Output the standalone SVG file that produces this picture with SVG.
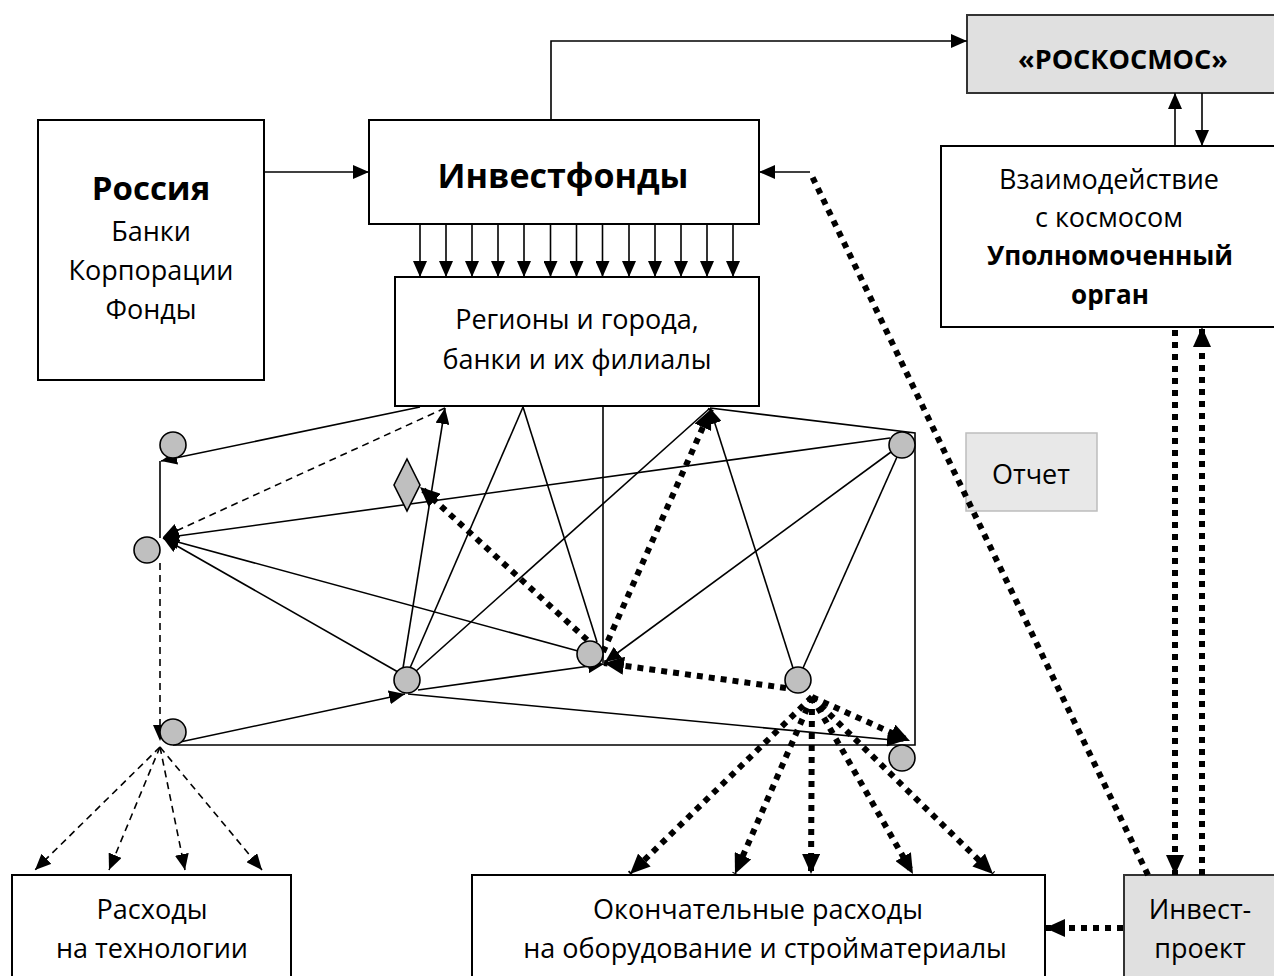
<svg xmlns="http://www.w3.org/2000/svg" width="1274" height="976" viewBox="0 0 1274 976">
<defs>
<style>
.box{fill:#fff;stroke:#000;stroke-width:2}
.gbox{fill:#e0e0e0;stroke:#333;stroke-width:2}
.obox{fill:#e8e8e8;stroke:#bdbdbd;stroke-width:1.5}
.t{font-family:"Open Sans","DejaVu Sans",sans-serif;font-size:27px;fill:#000;text-anchor:middle;dominant-baseline:central}
.b{font-weight:bold;font-size:26px}
.ln{fill:none;stroke:#000;stroke-width:1.6}
.da{fill:none;stroke:#000;stroke-width:1.6;stroke-dasharray:7 5}
.dt{fill:none;stroke:#000;stroke-width:6;stroke-dasharray:6 6}
.nd{fill:#bfbfbf;stroke:#000;stroke-width:1.6}
</style>
<marker id="a" markerUnits="userSpaceOnUse" viewBox="0 0 16 14" refX="16" refY="7" markerWidth="16" markerHeight="14" orient="auto"><path d="M0,0L16,7L0,14z" fill="#000"/></marker>
<marker id="A" markerUnits="userSpaceOnUse" viewBox="0 0 20 18" refX="20" refY="9" markerWidth="20" markerHeight="18" orient="auto"><path d="M0,0L20,9L0,18z" fill="#000"/></marker>
</defs>
<rect width="1274" height="976" fill="#fff"/>

<g id="node-russia">
<rect class="box" x="38" y="120" width="226" height="260"/>
<text class="t b" x="151" y="187" style="font-size:33px">Россия</text>
<text class="t" x="151" y="230">Банки</text>
<text class="t" x="151" y="269">Корпорации</text>
<text class="t" x="151" y="308">Фонды</text>
</g>
<g id="node-investfondy">
<rect class="box" x="369" y="120" width="390" height="104"/>
<text class="t b" x="563" y="175" style="font-size:34px">Инвестфонды</text>
</g>
<g id="node-regiony">
<rect class="box" x="395" y="277" width="364" height="129"/>
<text class="t" x="577" y="318">Регионы и города,</text>
<text class="t" x="577" y="358">банки и их филиалы</text>
</g>
<g id="node-roskosmos">
<rect class="gbox" x="967" y="15" width="320" height="78"/>
<text class="t b" x="1123" y="58" style="font-size:27px">«РОСКОСМОС»</text>
</g>
<g id="node-vzaimodeistvie">
<rect class="box" x="941" y="146" width="345" height="181"/>
<text class="t" x="1109" y="178">Взаимодействие</text>
<text class="t" x="1109" y="216">с космосом</text>
<text class="t b" x="1110" y="255">Уполномоченный</text>
<text class="t b" x="1110" y="294">орган</text>
</g>
<g id="node-otchet">
<rect class="obox" x="966" y="433" width="131" height="78"/>
<text class="t" x="1031" y="473">Отчет</text>
</g>
<g id="node-raskhody-tech">
<rect class="box" x="12" y="875" width="279" height="120"/>
<text class="t" x="152" y="908">Расходы</text>
<text class="t" x="152" y="947">на технологии</text>
</g>
<g id="node-okonchatelnye">
<rect class="box" x="472" y="875" width="573" height="120"/>
<text class="t" x="758" y="908">Окончательные расходы</text>
<text class="t" x="765" y="947">на оборудование и стройматериалы</text>
</g>
<g id="node-investproekt">
<rect class="gbox" x="1124" y="875" width="160" height="120"/>
<text class="t" x="1200" y="908">Инвест-</text>
<text class="t" x="1200" y="947">проект</text>
</g>

<g id="connectors">
<line class="ln" x1="264" y1="172" x2="369" y2="172" marker-end="url(#a)"/>
<polyline class="ln" points="551,120 551,41 967,41" marker-end="url(#a)"/>
<line class="ln" x1="1175" y1="146" x2="1175" y2="93" marker-end="url(#a)"/>
<line class="ln" x1="1202" y1="93" x2="1202" y2="146" marker-end="url(#a)"/>
<g id="fan13">
<line class="ln" x1="420" y1="224" x2="420" y2="277" marker-end="url(#a)"/>
<line class="ln" x1="446" y1="224" x2="446" y2="277" marker-end="url(#a)"/>
<line class="ln" x1="472" y1="224" x2="472" y2="277" marker-end="url(#a)"/>
<line class="ln" x1="498" y1="224" x2="498" y2="277" marker-end="url(#a)"/>
<line class="ln" x1="524" y1="224" x2="524" y2="277" marker-end="url(#a)"/>
<line class="ln" x1="550.5" y1="224" x2="550.5" y2="277" marker-end="url(#a)"/>
<line class="ln" x1="576.5" y1="224" x2="576.5" y2="277" marker-end="url(#a)"/>
<line class="ln" x1="602.5" y1="224" x2="602.5" y2="277" marker-end="url(#a)"/>
<line class="ln" x1="629" y1="224" x2="629" y2="277" marker-end="url(#a)"/>
<line class="ln" x1="655" y1="224" x2="655" y2="277" marker-end="url(#a)"/>
<line class="ln" x1="681" y1="224" x2="681" y2="277" marker-end="url(#a)"/>
<line class="ln" x1="707" y1="224" x2="707" y2="277" marker-end="url(#a)"/>
<line class="ln" x1="733" y1="224" x2="733" y2="277" marker-end="url(#a)"/>
</g>
<line class="ln" x1="420" y1="407" x2="161" y2="461" marker-end="url(#a)"/>
<line class="ln" x1="160" y1="461" x2="160" y2="538"/>
<line class="ln" x1="890" y1="438" x2="163" y2="538" marker-end="url(#a)"/>
<line class="ln" x1="578" y1="651" x2="163" y2="538" marker-end="url(#a)"/>
<line class="ln" x1="398" y1="672" x2="163" y2="538" marker-end="url(#a)"/>
<line class="ln" x1="403" y1="668" x2="445" y2="408" marker-end="url(#a)"/>
<line class="ln" x1="523" y1="407" x2="410" y2="668"/>
<line class="ln" x1="523" y1="407" x2="597" y2="642"/>
<line class="ln" x1="603" y1="407" x2="603" y2="663"/>
<line class="ln" x1="415" y1="672" x2="709" y2="409"/>
<line class="ln" x1="793" y1="668" x2="710" y2="408" marker-end="url(#a)"/>
<line class="ln" x1="891" y1="452" x2="605" y2="662" marker-end="url(#a)"/>
<line class="ln" x1="803" y1="668" x2="897" y2="457"/>
<line class="ln" x1="418" y1="690" x2="604" y2="664" marker-end="url(#a)"/>
<line class="ln" x1="180" y1="742" x2="405" y2="694" marker-end="url(#a)"/>
<line class="ln" x1="408" y1="694" x2="903" y2="741" marker-end="url(#a)"/>
<polyline class="ln" points="710,408 915,433 915,745 173,745"/>
<line class="da" x1="445" y1="408" x2="163" y2="537" marker-end="url(#a)"/>
<line class="da" x1="160" y1="563" x2="160" y2="741" marker-end="url(#a)"/>
<line class="da" x1="160" y1="747" x2="35" y2="870" marker-end="url(#a)"/>
<line class="da" x1="160" y1="747" x2="109" y2="870" marker-end="url(#a)"/>
<line class="da" x1="160" y1="747" x2="185" y2="870" marker-end="url(#a)"/>
<line class="da" x1="160" y1="747" x2="262" y2="870" marker-end="url(#a)"/>
<line class="dt" x1="596" y1="648" x2="420" y2="487" marker-end="url(#A)"/>
<line class="dt" x1="603" y1="652" x2="711" y2="409" marker-end="url(#A)"/>
<line class="dt" x1="786" y1="688" x2="604" y2="663" marker-end="url(#A)"/>
<line class="dt" x1="812" y1="697" x2="910" y2="741" marker-end="url(#A)"/>
<line class="dt" x1="812" y1="697" x2="630" y2="874" marker-end="url(#A)"/>
<line class="dt" x1="812" y1="697" x2="735" y2="874" marker-end="url(#A)"/>
<line class="dt" x1="812" y1="697" x2="811" y2="874" marker-end="url(#A)"/>
<line class="dt" x1="812" y1="697" x2="913" y2="874" marker-end="url(#A)"/>
<line class="dt" x1="812" y1="697" x2="993" y2="874" marker-end="url(#A)"/>
<line class="dt" x1="1148" y1="875" x2="810" y2="172"/>
<line class="ln" x1="810" y1="172" x2="759" y2="172" marker-end="url(#a)"/>
<line class="dt" x1="1175" y1="330" x2="1175" y2="875" marker-end="url(#A)"/>
<line class="dt" x1="1202" y1="875" x2="1202" y2="327" marker-end="url(#A)"/>
<line class="dt" x1="1123" y1="928" x2="1045" y2="928" marker-end="url(#A)"/>
</g>

<g id="node-n1"><circle class="nd" cx="173" cy="445" r="13"/></g>
<g id="node-n2"><circle class="nd" cx="147" cy="550" r="13"/></g>
<g id="node-n3"><circle class="nd" cx="173" cy="732" r="13"/></g>
<g id="node-n4"><circle class="nd" cx="407" cy="680" r="13"/></g>
<g id="node-n5"><circle class="nd" cx="590" cy="654" r="13"/></g>
<g id="node-n6"><circle class="nd" cx="798" cy="680" r="13"/></g>
<g id="node-n7"><circle class="nd" cx="902" cy="445" r="13"/></g>
<g id="node-n8"><circle class="nd" cx="902" cy="758" r="13"/></g>
<g id="node-diamond"><polygon class="nd" points="407,459 420,485 407,511 394,485"/></g>
</svg>
